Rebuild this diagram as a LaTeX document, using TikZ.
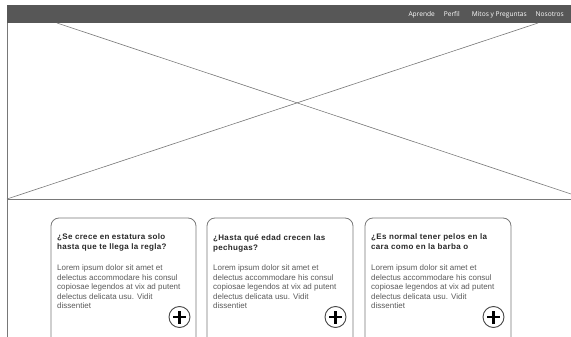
\documentclass[tikz,border=0pt]{standalone}
\usepackage{fontspec}
\setmainfont{Liberation Sans}
\newfontfamily\menufont{Open Sans}
\usepackage{xcolor}
\definecolor{barra}{RGB}{87,87,87}
\definecolor{linea}{RGB}{120,120,120}
\definecolor{titulo}{RGB}{40,40,40}
\definecolor{texto}{RGB}{90,90,90}
\definecolor{borde}{RGB}{70,70,70}

\begin{document}
\begin{tikzpicture}[x=1pt, y=-1pt,
    menu/.style={anchor=east, inner sep=0pt, white, font=\menufont\fontsize{6.6}{8}\selectfont},
    pregunta/.style={anchor=north west, inner sep=0pt, align=left, text=titulo,
        font=\addfontfeature{LetterSpace=4}\bfseries\fontsize{8}{10}\selectfont},
    cuerpo/.style={anchor=north west, inner sep=0pt, align=left, text=texto,
        font=\fontsize{8}{9.6}\selectfont},
    tarjeta/.style={linea, line width=0.8pt, rounded corners=8pt},
    boton/.style={circle, draw=borde, line width=0.9pt, minimum size=21pt, inner sep=0pt},
    cruz/.style={black, line width=2.4pt}]
    \useasboundingbox (0,0) rectangle (571,337);

    % Kopfleiste
    \fill[barra] (7,5) rectangle (571,23);
    \node[menu] (aprende) at (435,14.5) {Aprende};
    \node[menu] (perfil) at (460,14.5) {Perfil};
    \node[menu] (mitos) at (527,14.5) {Mitos y Preguntas};
    \node[menu] (nosotros) at (564,14.5) {Nosotros};

    % Bildplatzhalter
    \draw[linea, line width=0.8pt] (7,23) -- (7,337);
    \draw[linea, line width=0.8pt] (7,199) -- (571,199);
    \draw[linea, line width=0.6pt] (57,23) -- (571,194);
    \draw[linea, line width=0.6pt] (7,199) -- (538,23);

    % Erste Karte
    \draw[tarjeta] (51,337) -- (51,218) -- (196,218) -- (196,337);
    \node[pregunta] (titulo1) at (57,234) {¿Se crece en estatura solo\\hasta que te llega la regla?};
    \node[cuerpo] (cuerpo1) at (57,264.5) {Lorem ipsum dolor sit amet et\\delectus accommodare his consul\\copiosae legendos at vix ad putent\\delectus delicata usu. Vidit\\dissentiet};
    \node[boton] (mas1) at (179.5,317) {};
    \draw[cruz] ([xshift=-6.5pt]mas1.center) -- ([xshift=6.5pt]mas1.center);
    \draw[cruz] ([yshift=-6.5pt]mas1.center) -- ([yshift=6.5pt]mas1.center);

    % Zweite Karte
    \draw[tarjeta] (207,337) -- (207,218) -- (353,218) -- (353,337);
    \node[pregunta] (titulo2) at (213,234) {¿Hasta qué edad crecen las\\pechugas?};
    \node[cuerpo] (cuerpo2) at (213,264.5) {Lorem ipsum dolor sit amet et\\delectus accommodare his consul\\copiosae legendos at vix ad putent\\delectus delicata usu. Vidit\\dissentiet};
    \node[boton] (mas2) at (335.5,317) {};
    \draw[cruz] ([xshift=-6.5pt]mas2.center) -- ([xshift=6.5pt]mas2.center);
    \draw[cruz] ([yshift=-6.5pt]mas2.center) -- ([yshift=6.5pt]mas2.center);

    % Dritte Karte
    \draw[tarjeta] (365,337) -- (365,218) -- (511,218) -- (511,337);
    \node[pregunta] (titulo3) at (371,234) {¿Es normal tener pelos en la\\cara como en la barba o};
    \node[cuerpo] (cuerpo3) at (371,264.5) {Lorem ipsum dolor sit amet et\\delectus accommodare his consul\\copiosae legendos at vix ad putent\\delectus delicata usu. Vidit\\dissentiet};
    \node[boton] (mas3) at (493.5,317) {};
    \draw[cruz] ([xshift=-6.5pt]mas3.center) -- ([xshift=6.5pt]mas3.center);
    \draw[cruz] ([yshift=-6.5pt]mas3.center) -- ([yshift=6.5pt]mas3.center);
\end{tikzpicture}
\end{document}
